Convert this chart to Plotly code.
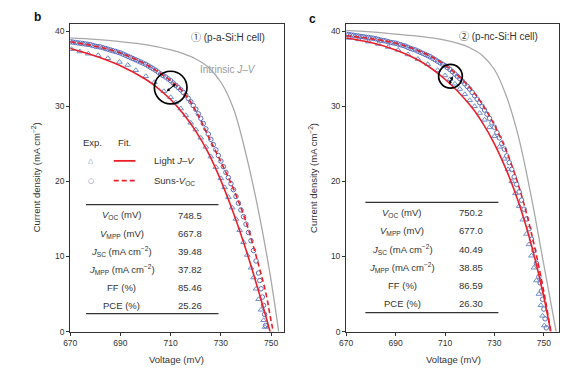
import plotly.graph_objects as go

W, H = 588, 381

# ---------------- data ----------------
# Panel b : p-a-Si:H cell
b_intr_v = [670, 680, 690, 700, 710, 715, 720, 725, 730, 735, 740, 745, 750, 753]
b_intr_j = [39.1, 38.9, 38.6, 38.2, 37.5, 37.0, 36.3, 35.2, 33.2, 29.7, 23.6, 16.0, 6.8, 0.0]

b_fit_light_v = [670, 680, 690, 700, 705, 710, 715, 720, 725, 730, 735, 740, 745, 748, 750]
b_fit_light_j = [37.7, 36.7, 35.4, 33.6, 32.4, 30.9, 29.0, 26.7, 23.8, 20.1, 15.8, 10.9, 5.4, 1.9, -0.5]

b_fit_suns_v = [670, 680, 690, 700, 705, 710, 715, 720, 725, 730, 735, 740, 745, 748, 750, 751]
b_fit_suns_j = [38.6, 38.0, 37.1, 35.6, 34.6, 33.4, 31.9, 29.4, 26.0, 22.6, 19.0, 14.6, 8.9, 5.0, 1.4, -0.2]

b_exp_light_v = [670.5, 673.8, 677.2, 681.1, 685.0, 689.6, 692.9, 696.1, 700.1, 703.5, 707.3, 710,
                 712, 714, 716, 718, 720, 722, 724, 726, 728, 730, 731.5, 733, 734.5, 736, 737.5,
                 739, 740.5, 742, 743, 744, 745, 746, 747, 747.6]
b_exp_light_j = [37.6, 37.3, 37.0, 36.8, 36.4, 35.9, 35.5, 34.8, 34.0, 33.2, 32.0, 31.2,
                 30.5, 29.7, 28.8, 27.8, 26.9, 25.8, 24.6, 23.3, 21.9, 20.4, 19.2, 17.9, 16.5, 15.0, 13.5,
                 11.9, 10.2, 8.5, 7.2, 5.7, 4.3, 2.9, 1.5, 0.6]

b_exp_suns_v = [670, 671, 672, 673, 674, 675, 676, 677, 678, 679, 680, 681, 682, 683, 684, 685,
                686, 687, 688, 689, 690, 691, 692, 693, 694, 695, 696, 697, 698, 699, 700, 701,
                702, 703, 704, 705, 706, 707, 708, 709, 710, 711, 712, 713, 714, 715, 716, 717,
                718, 719, 720, 721, 722, 723, 724, 725, 726, 727, 728, 729, 730, 731, 732, 733,
                734, 735, 736, 737, 738, 739, 740, 741, 742, 743, 744, 745, 745.5, 746, 746.5,
                747, 747.4, 747.8]
b_exp_suns_j = [38.6, 38.55, 38.5, 38.45, 38.4, 38.35, 38.3, 38.25, 38.2, 38.1, 38.0, 37.95, 37.9, 37.8, 37.7, 37.6,
                37.5, 37.4, 37.3, 37.2, 37.1, 36.95, 36.8, 36.65, 36.5, 36.35, 36.2, 36.05, 35.9, 35.75, 35.6, 35.4,
                35.2, 35.0, 34.8, 34.55, 34.3, 34.1, 33.9, 33.65, 33.4, 33.1, 32.8, 32.5, 32.2, 31.85, 31.5, 31.05,
                30.6, 30.1, 29.6, 29.0, 28.4, 27.7, 27.0, 26.3, 25.6, 24.9, 24.2, 23.45, 22.7, 21.95, 21.2, 20.5,
                19.7, 18.9, 18.0, 17.1, 16.2, 15.3, 14.3, 13.2, 12.1, 10.8, 9.4, 7.8, 6.8, 5.7, 4.6,
                3.5, 2.3, 0.8]

# Panel c : p-nc-Si:H cell
c_intr_v = [670, 680, 690, 700, 710, 715, 720, 725, 730, 735, 740, 745, 750, 755]
c_intr_j = [40.1, 39.9, 39.6, 39.3, 38.8, 38.4, 37.8, 36.8, 34.9, 31.2, 25.6, 17.8, 8.9, 0.0]

c_fit_light_v = [670, 680, 690, 700, 710, 720, 725, 730, 735, 740, 745, 750, 752.8]
c_fit_light_j = [39.1, 38.5, 37.5, 36.0, 33.6, 30.2, 27.9, 25.0, 21.4, 17.0, 11.5, 4.6, 0.0]

c_fit_suns_v = [670, 680, 690, 700, 710, 720, 725, 730, 735, 740, 745, 750, 752.8]
c_fit_suns_j = [39.4, 39.0, 38.4, 37.3, 35.5, 32.5, 30.3, 27.5, 23.9, 19.2, 13.1, 5.3, 0.0]

c_exp_light_v = [671, 675, 679, 683, 687, 691, 695, 699, 703, 707, 710, 712, 714, 716, 718, 720,
                 722, 724, 726, 728, 730, 732, 734, 735.5, 737, 738.5, 740, 741.5, 743, 744, 745,
                 746, 747, 748, 748.8, 749.5, 750.2]
c_exp_light_j = [39.1, 38.9, 38.6, 38.3, 37.9, 37.5, 36.9, 36.3, 35.6, 34.8, 34.1, 33.6, 33.0, 32.3, 31.6, 30.8,
                 30.0, 29.1, 28.2, 27.2, 26.0, 24.6, 23.0, 21.6, 20.0, 18.4, 16.7, 14.9, 13.0, 11.6, 10.1,
                 8.5, 6.8, 5.0, 3.5, 2.1, 0.8]

c_exp_suns_v = [670, 671, 672, 673, 674, 675, 676, 677, 678, 679, 680, 681, 682, 683, 684, 685,
                686, 687, 688, 689, 690, 691, 692, 693, 694, 695, 696, 697, 698, 699, 700, 701,
                702, 703, 704, 705, 706, 707, 708, 709, 710, 711, 712, 713, 714, 715, 716, 717,
                718, 719, 720, 721, 722, 723, 724, 725, 726, 727, 728, 729, 730, 731, 732, 733,
                734, 735, 736, 737, 738, 739, 740, 741, 742, 743, 744, 745, 746, 747, 748, 748.5,
                749, 749.5, 750, 750.5, 751]
c_exp_suns_j = [39.6, 39.55, 39.5, 39.45, 39.4, 39.35, 39.3, 39.25, 39.2, 39.15, 39.1, 39.05, 39.0, 38.9, 38.8, 38.75,
                38.7, 38.6, 38.5, 38.45, 38.4, 38.3, 38.2, 38.1, 38.0, 37.85, 37.7, 37.6, 37.5, 37.35, 37.2, 37.05,
                36.9, 36.75, 36.6, 36.4, 36.2, 36.0, 35.8, 35.6, 35.4, 35.15, 34.9, 34.6, 34.3, 34.0, 33.7, 33.35,
                33.0, 32.65, 32.3, 31.85, 31.4, 30.95, 30.5, 30.0, 29.5, 28.95, 28.4, 27.8, 27.2, 26.5, 25.8, 25.05,
                24.3, 23.4, 22.5, 21.6, 20.6, 19.6, 18.6, 17.5, 16.3, 15.0, 13.7, 12.3, 10.8, 9.1, 7.3, 6.5,
                5.4, 4.3, 3.0, 1.7, 0.5]

# axis ticks
x_ticks = [670, 690, 710, 730, 750]
y_ticks = [0, 10, 20, 30, 40]

# table contents
table_labels = ["<i>V</i><sub>OC</sub> (mV)", "<i>V</i><sub>MPP</sub> (mV)",
                "<i>J</i><sub>SC</sub> (mA cm<sup>−2</sup>)", "<i>J</i><sub>MPP</sub> (mA cm<sup>−2</sup>)",
                "FF (%)", "PCE (%)"]
b_table_values = ["748.5", "667.8", "39.48", "37.82", "85.46", "25.26"]
c_table_values = ["750.2", "677.0", "40.49", "38.85", "86.59", "26.30"]

# ---------------- styling ----------------
FONT = "Liberation Sans, Arial, Noto Sans CJK SC, sans-serif"
TXT = "#333333"
RED = "#e8202a"
GRAY = "#a8a8a8"
BLUE_TRI = "#6f8fcf"
BLUE_CIR = "#5d6fb8"


def PX(x):
    return x / W


def PY(y):
    return 1 - y / H


fig = go.Figure()


def add_panel(xa, ya, iv, ij, el_v, el_j, es_v, es_j, fl_v, fl_j, fs_v, fs_j):
    fig.add_trace(go.Scatter(x=iv, y=ij, mode="lines", line=dict(color=GRAY, width=1.3, shape="spline"),
                             xaxis=xa, yaxis=ya, showlegend=False, hoverinfo="skip"))
    fig.add_trace(go.Scatter(x=es_v, y=es_j, mode="markers",
                             marker=dict(symbol="circle-open", size=4.5, color=BLUE_CIR, line=dict(width=1)),
                             xaxis=xa, yaxis=ya, showlegend=False))
    fig.add_trace(go.Scatter(x=el_v, y=el_j, mode="markers",
                             marker=dict(symbol="triangle-up-open", size=5, color=BLUE_TRI, line=dict(width=1)),
                             xaxis=xa, yaxis=ya, showlegend=False))
    fig.add_trace(go.Scatter(x=fl_v, y=fl_j, mode="lines", line=dict(color=RED, width=1.6, shape="spline"),
                             xaxis=xa, yaxis=ya, showlegend=False))
    fig.add_trace(go.Scatter(x=fs_v, y=fs_j, mode="lines",
                             line=dict(color=RED, width=1.6, dash="5px,3px", shape="spline"),
                             xaxis=xa, yaxis=ya, showlegend=False))


add_panel("x", "y", b_intr_v, b_intr_j, b_exp_light_v, b_exp_light_j, b_exp_suns_v, b_exp_suns_j,
          b_fit_light_v, b_fit_light_j, b_fit_suns_v, b_fit_suns_j)
add_panel("x2", "y2", c_intr_v, c_intr_j, c_exp_light_v, c_exp_light_j, c_exp_suns_v, c_exp_suns_j,
          c_fit_light_v, c_fit_light_j, c_fit_suns_v, c_fit_suns_j)

axis_common = dict(showline=True, linecolor="#333333", linewidth=1.3, mirror=True, ticks="outside",
                   ticklen=3, tickwidth=1, tickcolor="#333333", showgrid=False, zeroline=False,
                   tickfont=dict(size=8.5, color=TXT, family=FONT))

ydom = [PY(336), PY(24)]
fig.update_layout(
    width=W, height=H, margin=dict(l=0, r=0, t=0, b=0),
    paper_bgcolor="white", plot_bgcolor="white",
    font=dict(family=FONT, color=TXT),
    xaxis=dict(domain=[PX(64), PX(280)], range=[670, 755], tickvals=x_ticks, anchor="y", **axis_common),
    yaxis=dict(domain=ydom, range=[0, 41], tickvals=y_ticks, anchor="x", **axis_common),
    xaxis2=dict(domain=[PX(343.3), PX(558.3)], range=[670, 756], tickvals=x_ticks, anchor="y2", **axis_common),
    yaxis2=dict(domain=ydom, range=[0, 41], tickvals=y_ticks, anchor="x2", **axis_common),
)

ann = []
shapes = []


def text(x, y, s, size=9, color=TXT, xanchor="center", angle=0, **kw):
    ann.append(dict(x=PX(x), y=PY(y), xref="paper", yref="paper", text=s, showarrow=False,
                    xanchor=xanchor, yanchor="middle", textangle=angle,
                    font=dict(size=size, color=color, family=kw.get("family", FONT))))


# panel letters
text(31, 17, "<b>b</b>", size=12, color="#111111")
text(309, 19, "<b>c</b>", size=12, color="#111111")

# axis titles
text(172, 364, "Voltage (mV)", size=9.5)
text(452, 364, "Voltage (mV)", size=9.5)
text(29, 180, "Current density (mA cm<sup>−2</sup>)", size=9.5, angle=-90)
text(309, 180, "Current density (mA cm<sup>−2</sup>)", size=9.5, angle=-90)

# cell labels
text(263, 38, "① (p-a-Si:H cell)", size=10, xanchor="right")
text(539, 37, "② (p-nc-Si:H cell)", size=10, xanchor="right")
text(193, 70, "Intrinsic <i>J</i>–<i>V</i>", size=10, color="#9a9a9a", xanchor="left")

# legend (panel b)
text(86.5, 144, "Exp.", size=9.5)
text(119, 144, "Fit.", size=9.5)
text(85, 163, "△", size=7, color=BLUE_TRI, family="DejaVu Sans")
text(85, 183, "○", size=7, color=BLUE_CIR, family="DejaVu Sans")
text(147, 163, "Light <i>J</i>–<i>V</i>", size=9.5, xanchor="left")
text(147, 183, "Suns-<i>V</i><sub>OC</sub>", size=9.5, xanchor="left")
shapes.append(dict(type="line", xref="paper", yref="paper", x0=PX(108), x1=PX(130), y0=PY(163), y1=PY(163),
                   line=dict(color=RED, width=1.8)))
shapes.append(dict(type="line", xref="paper", yref="paper", x0=PX(108), x1=PX(130), y0=PY(183), y1=PY(183),
                   line=dict(color=RED, width=1.8, dash="5px,3px")))


def table(x_left, x_right, y_top, y_bot, rows_y, lab_x, val_x, values):
    for yy in (y_top, y_bot):
        shapes.append(dict(type="line", xref="paper", yref="paper", x0=PX(x_left), x1=PX(x_right),
                           y0=PY(yy), y1=PY(yy), line=dict(color="#333333", width=1.2)))
    for ry, lab, val in zip(rows_y, table_labels, values):
        text(lab_x, ry, lab, size=9.5)
        text(val_x, ry, val, size=9.5, xanchor="left")


table(80, 214, 207.3, 317.7, [218, 236.7, 255, 273.3, 291.7, 310], 116, 171, b_table_values)
table(362.7, 497.3, 205, 316.7, [215.7, 234, 252.7, 270.7, 289.3, 308], 400, 455, c_table_values)

# highlight circles + arrows
shapes.append(dict(type="circle", xref="x", yref="y", x0=710.0 - 6.5, x1=710.0 + 6.5,
                   y0=32.5 - 2.17, y1=32.5 + 2.17, line=dict(color="black", width=1.7)))
shapes.append(dict(type="circle", xref="x2", yref="y2", x0=712.2 - 4.8, x1=712.2 + 4.8,
                   y0=34.0 - 1.58, y1=34.0 + 1.58, line=dict(color="black", width=1.7)))
ann.append(dict(x=712.0, y=33.0, ax=707.8, ay=31.8, xref="x", yref="y", axref="x", ayref="y", text="",
                showarrow=True, arrowhead=2, arrowside="end+start", arrowsize=0.6, arrowwidth=1.1,
                arrowcolor="black"))
ann.append(dict(x=713.1, y=34.0, ax=711.5, ay=32.7, xref="x2", yref="y2", axref="x2", ayref="y2", text="",
                showarrow=True, arrowhead=2, arrowside="end+start", arrowsize=0.6, arrowwidth=1.1,
                arrowcolor="black"))

fig.update_layout(annotations=ann, shapes=shapes)
fig.write_html("out.html", config={"displayModeBar": False},
               post_script="document.body.style.margin='0px';")
